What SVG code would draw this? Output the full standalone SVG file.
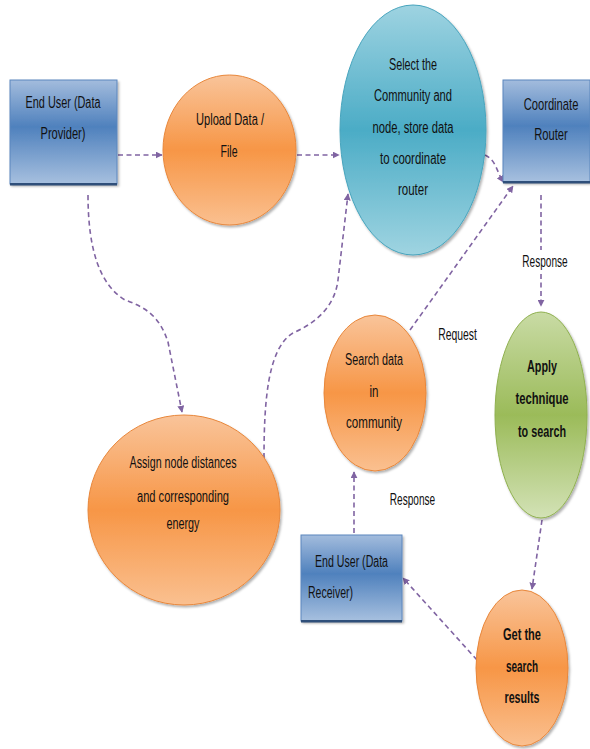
<svg xmlns="http://www.w3.org/2000/svg" width="590" height="749" viewBox="0 0 590 749">
<defs>
<linearGradient id="gBlue" x1="0" y1="0" x2="0" y2="1">
<stop offset="0" stop-color="#A3BCDD"/><stop offset="0.45" stop-color="#4F81BD"/><stop offset="1" stop-color="#A7C0DF"/>
</linearGradient>
<linearGradient id="gOrange" x1="0" y1="0" x2="0" y2="1">
<stop offset="0" stop-color="#F9C49A"/><stop offset="0.5" stop-color="#F79646"/><stop offset="1" stop-color="#FAC090"/>
</linearGradient>
<linearGradient id="gTeal" x1="0" y1="0" x2="0" y2="1">
<stop offset="0" stop-color="#9ED3E1"/><stop offset="0.5" stop-color="#4BACC6"/><stop offset="1" stop-color="#9FD4E1"/>
</linearGradient>
<linearGradient id="gGreen" x1="0" y1="0" x2="0" y2="1">
<stop offset="0" stop-color="#C9DBA5"/><stop offset="0.5" stop-color="#9BBB59"/><stop offset="1" stop-color="#D3E2B6"/>
</linearGradient>
<marker id="arr" viewBox="0 0 10 10" refX="9" refY="5" markerWidth="7" markerHeight="7" markerUnits="userSpaceOnUse" orient="auto">
<path d="M0,0 L10,5 L0,10 z" fill="#8064A2"/>
</marker>
<filter id="sh" x="-10%" y="-10%" width="125%" height="125%">
<feDropShadow dx="1.5" dy="2" stdDeviation="1.2" flood-color="#000" flood-opacity="0.3"/>
</filter>
</defs>
<style>
text{font-family:"Liberation Sans",Arial,sans-serif;font-size:16px;fill:#111;text-anchor:middle}
.b{font-weight:bold}
.box{fill:url(#gBlue);stroke:#5B86BD;stroke-width:1}
.or{fill:url(#gOrange);stroke:#E8873B;stroke-width:1}
.te{fill:url(#gTeal);stroke:#47A4BD;stroke-width:1}
.gr{fill:url(#gGreen);stroke:#8FB04F;stroke-width:1}
.c{fill:none;stroke:#8064A2;stroke-width:1.6;stroke-dasharray:5 3.5;marker-end:url(#arr)}
</style>

<g id="connectors">
<path class="c" d="M118,155 L162,155"/>
<path class="c" d="M297,155 L339,155"/>
<path class="c" d="M88,195 C88,250 100,285 125,300 C148,308 160,318 168,342 L182,412"/>
<path class="c" d="M264,458 C264,400 268,348 293,333 C318,322 335,305 338,280 L348,194"/>
<path class="c" d="M410,330 L513,186"/>
<path class="c" d="M485,155 C496,160 497,172 503,182"/>
<path class="c" d="M541,195 L541,250 M541,274 L541,306"/>
<path class="c" d="M542,520 L532,589"/>
<path class="c" d="M477,660 L403,578"/>
<path class="c" d="M354,533 L354,472"/>
</g>

<g id="n-provider">
<rect class="box" x="10" y="80" width="107" height="104" filter="url(#sh)"/>
<rect x="10" y="183" width="107" height="2.5" fill="#2F4F7A"/>
<text x="63" y="108" textLength="75" lengthAdjust="spacingAndGlyphs">End User (Data</text>
<text x="63" y="139" textLength="45" lengthAdjust="spacingAndGlyphs">Provider)</text>
</g>

<g id="n-upload">
<ellipse class="or" cx="229.5" cy="150" rx="66.5" ry="75" filter="url(#sh)"/>
<text x="230" y="125" textLength="68" lengthAdjust="spacingAndGlyphs">Upload Data /</text>
<text x="229" y="157" textLength="17" lengthAdjust="spacingAndGlyphs">File</text>
</g>

<g id="n-select">
<ellipse class="te" cx="413" cy="130" rx="73" ry="125" filter="url(#sh)"/>
<text x="413" y="70" textLength="48" lengthAdjust="spacingAndGlyphs">Select the</text>
<text x="413" y="101" textLength="78" lengthAdjust="spacingAndGlyphs">Community and</text>
<text x="413" y="133" textLength="81" lengthAdjust="spacingAndGlyphs">node, store data</text>
<text x="413" y="164" textLength="66" lengthAdjust="spacingAndGlyphs">to coordinate</text>
<text x="413" y="195" textLength="30" lengthAdjust="spacingAndGlyphs">router</text>
</g>

<g id="n-router">
<rect class="box" x="503" y="80" width="87" height="102" filter="url(#sh)"/>
<rect x="503" y="181" width="87" height="2.5" fill="#2F4F7A"/>
<text transform="translate(551,110) scale(0.7,1)" x="0" y="0">Coordinate</text>
<text transform="translate(551,140) scale(0.7,1)" x="0" y="0">Router</text>
</g>

<g id="n-apply">
<ellipse class="gr" cx="541" cy="415" rx="46" ry="103" filter="url(#sh)"/>
<text class="b" x="542" y="372" textLength="30" lengthAdjust="spacingAndGlyphs">Apply</text>
<text class="b" x="542" y="404" textLength="53" lengthAdjust="spacingAndGlyphs">technique</text>
<text class="b" x="542" y="437" textLength="48" lengthAdjust="spacingAndGlyphs">to search</text>
</g>

<g id="n-search">
<ellipse class="or" cx="375" cy="393" rx="51" ry="78" filter="url(#sh)"/>
<text x="374" y="365" textLength="58" lengthAdjust="spacingAndGlyphs">Search data</text>
<text x="374" y="397" textLength="9" lengthAdjust="spacingAndGlyphs">in</text>
<text x="374" y="428" textLength="56" lengthAdjust="spacingAndGlyphs">community</text>
</g>

<g id="n-assign">
<ellipse class="or" cx="184" cy="510" rx="96" ry="95" filter="url(#sh)"/>
<text x="183" y="468" textLength="107" lengthAdjust="spacingAndGlyphs">Assign node distances</text>
<text x="183" y="502" textLength="92" lengthAdjust="spacingAndGlyphs">and corresponding</text>
<text x="183" y="529" textLength="33" lengthAdjust="spacingAndGlyphs">energy</text>
</g>

<g id="n-receiver">
<rect class="box" x="301" y="535" width="101" height="86" filter="url(#sh)"/>
<rect x="301" y="620" width="101" height="2.5" fill="#2F4F7A"/>
<text x="351.5" y="567" textLength="73" lengthAdjust="spacingAndGlyphs">End User (Data</text>
<text x="330.5" y="598" textLength="45" lengthAdjust="spacingAndGlyphs">Receiver)</text>
</g>

<g id="n-results">
<ellipse class="or" cx="522" cy="668" rx="46" ry="78" filter="url(#sh)"/>
<text class="b" x="522" y="640" textLength="38" lengthAdjust="spacingAndGlyphs">Get the</text>
<text class="b" x="522" y="672" textLength="32" lengthAdjust="spacingAndGlyphs">search</text>
<text class="b" x="522" y="703" textLength="35" lengthAdjust="spacingAndGlyphs">results</text>
</g>

<g id="labels">
<text transform="translate(545,267) scale(0.63,1)" x="0" y="0">Response</text>
<text transform="translate(457.5,340) scale(0.65,1)" x="0" y="0">Request</text>
<text transform="translate(412.5,505) scale(0.63,1)" x="0" y="0">Response</text>
</g>
</svg>
